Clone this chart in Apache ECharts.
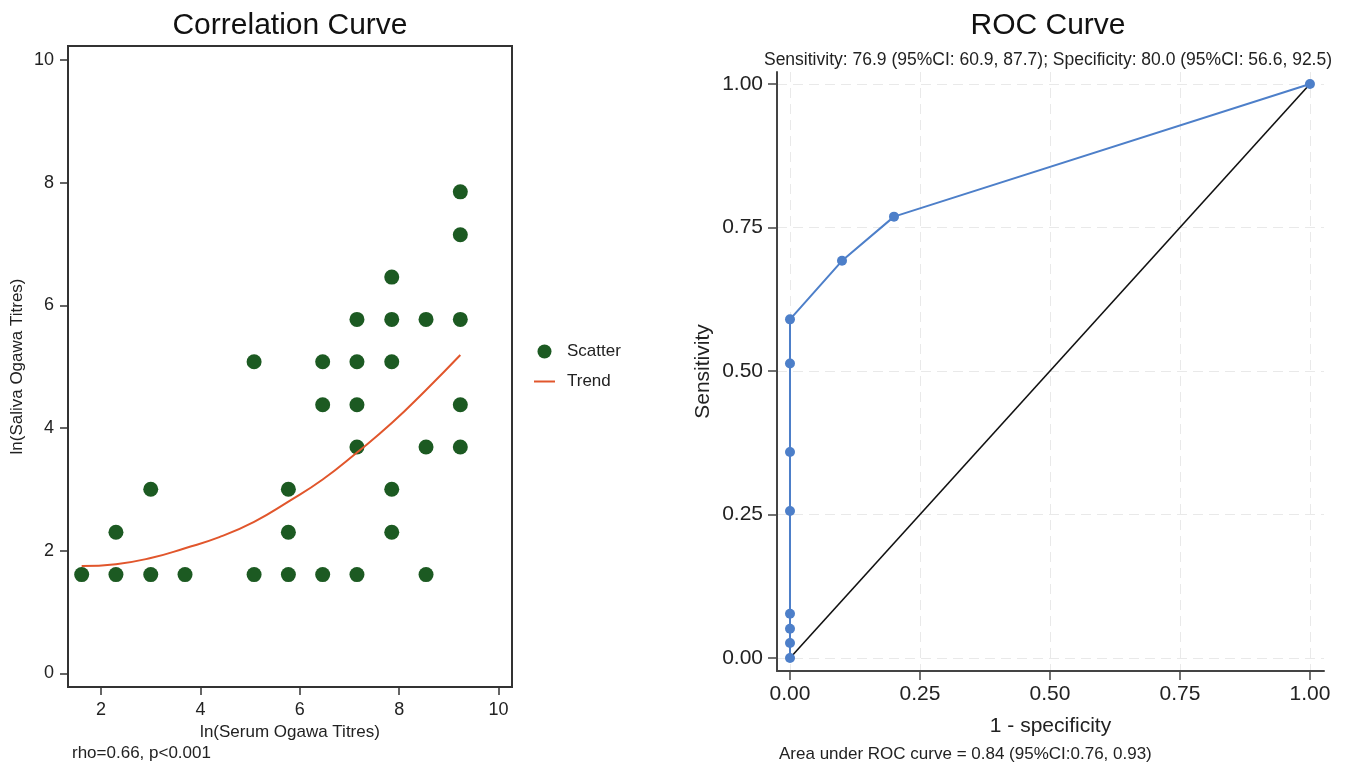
<!DOCTYPE html>
<html>
<head>
<meta charset="utf-8">
<script src="https://cdn.jsdelivr.net/npm/echarts@6/dist/echarts.min.js"></script>
<style>
  html, body { margin: 0; padding: 0; background: #fff; }
  #main { width: 1348px; height: 763px; }
</style>
</head>
<body>
<div id="main"></div>
<script>
// left panel: ln titres, one entry per dot
var serumX = [1.61, 2.30, 2.30, 3.00, 3.00, 3.69, 5.08, 5.08,
	5.77, 5.77, 5.77, 6.46, 6.46, 6.46,
	7.15, 7.15, 7.15, 7.15, 7.15,
	7.85, 7.85, 7.85, 7.85, 7.85,
	8.54, 8.54, 8.54,
	9.23, 9.23, 9.23, 9.23, 9.23]
var salivaY = [1.61, 1.61, 2.30, 1.61, 3.00, 1.61, 1.61, 5.08,
	1.61, 2.30, 3.00, 1.61, 4.38, 5.08,
	1.61, 3.69, 4.38, 5.08, 5.77,
	2.30, 3.00, 5.08, 5.77, 6.46,
	1.61, 3.69, 5.77,
	3.69, 4.38, 5.77, 7.15, 7.85]
// trend curve
var trendX = [1.61, 2.30, 3.00, 3.69, 4.38, 5.08, 5.77, 6.46, 7.15, 7.85, 8.54, 9.23]
var trendY = [1.75, 1.78, 1.88, 2.04, 2.22, 2.47, 2.80, 3.16, 3.60, 4.08, 4.62, 5.19]
var leftXTicks = [2, 4, 6, 8, 10]
var leftYTicks = [0, 2, 4, 6, 8, 10]

// right panel: ROC points
var fpr = [0, 0, 0, 0, 0, 0, 0, 0, 0.1, 0.2, 1]
var tpr = [0, 0.026, 0.051, 0.077, 0.256, 0.359, 0.513, 0.59, 0.692, 0.769, 1]
var refX = [0, 1]
var refY = [0, 1]
var rocTicks = [0, 0.25, 0.5, 0.75, 1]

var FONT = '"Liberation Sans", Arial, Helvetica, sans-serif'

function pairs(xs, ys){
	var out = []
	for (var i = 0; i < xs.length; i++) out.push([xs[i], ys[i]])
	return out
}

var chart = echarts.init(document.getElementById('main'))

var option = {
	animation: false,
	textStyle: { fontFamily: FONT },
	grid: [
		{ left: 68, top: 46, width: 444, height: 641, show: true, borderColor: '#333', borderWidth: 2, backgroundColor: 'transparent' },
		{ left: 777, top: 72, width: 547, height: 599 }
	],
	legend: {
		orient: 'vertical',
		left: 529,
		top: 338,
		itemWidth: 21,
		itemHeight: 14,
		itemGap: 13,
		textStyle: { fontSize: 17, color: '#222', fontFamily: FONT, padding: [0, 0, 0, 7] },
		data: [
			{ name: 'Scatter', icon: 'circle' },
			{ name: 'Trend', icon: 'path://M0,0 L21,0 L21,2 L0,2 Z' }
		]
	},
	xAxis: [
		{
			gridIndex: 0, type: 'value', min: 1.335, max: 10.27,
			name: 'ln(Serum Ogawa Titres)', nameLocation: 'middle', nameGap: 32,
			nameTextStyle: { fontSize: 17, color: '#222' },
			axisLine: { show: true, onZero: false, lineStyle: { color: '#333', width: 2 } },
			axisTick: { show: true, length: 8, customValues: leftXTicks, lineStyle: { color: '#333', width: 1.5 } },
			axisLabel: { customValues: leftXTicks, fontSize: 18, color: '#222', margin: 14 },
			splitLine: { show: false }
		},
		{
			gridIndex: 1, type: 'value', min: -0.025, max: 1.027,
			name: '1 - specificity', nameLocation: 'middle', nameGap: 45,
			nameTextStyle: { fontSize: 21, color: '#222' },
			axisLine: { show: true, onZero: false, lineStyle: { color: '#444', width: 2 } },
			axisTick: { show: true, length: 9, customValues: rocTicks, lineStyle: { color: '#444', width: 1.5 } },
			axisLabel: { customValues: rocTicks, fontSize: 21, color: '#222', margin: 13,
				formatter: function(v){ return v.toFixed(2) } },
			splitLine: { show: true, lineStyle: { color: '#e9e9e9', width: 1, type: [10, 6] } }
		}
	],
	yAxis: [
		{
			gridIndex: 0, type: 'value', min: -0.223, max: 10.228,
			name: 'ln(Saliva Ogawa Titres)', nameLocation: 'middle', nameGap: 42,
			nameTextStyle: { fontSize: 17, color: '#222' },
			axisLine: { show: true, onZero: false, lineStyle: { color: '#333', width: 2 } },
			axisTick: { show: true, length: 8, customValues: leftYTicks, lineStyle: { color: '#333', width: 1.5 } },
			axisLabel: { customValues: leftYTicks, fontSize: 18, color: '#222', margin: 14 },
			splitLine: { show: false }
		},
		{
			gridIndex: 1, type: 'value', min: -0.0227, max: 1.021,
			name: 'Sensitivity', nameLocation: 'middle', nameGap: 63,
			nameTextStyle: { fontSize: 21, color: '#222' },
			axisLine: { show: true, onZero: false, lineStyle: { color: '#444', width: 2 } },
			axisTick: { show: true, length: 9, customValues: rocTicks, lineStyle: { color: '#444', width: 1.5 } },
			axisLabel: { customValues: rocTicks, fontSize: 21, color: '#222', margin: 14,
				formatter: function(v){ return v.toFixed(2) } },
			splitLine: { show: true, lineStyle: { color: '#e9e9e9', width: 1, type: [10, 6] } }
		}
	],
	series: [
		{
			name: 'Scatter', type: 'scatter', xAxisIndex: 0, yAxisIndex: 0,
			symbolSize: 15,
			itemStyle: { color: '#1c5a22', opacity: 1 },
			data: pairs(serumX, salivaY)
		},
		{
			name: 'Trend', type: 'line', xAxisIndex: 0, yAxisIndex: 0,
			smooth: true, symbol: 'none',
			lineStyle: { color: '#e1562c', width: 2 },
			itemStyle: { color: '#e1562c' },
			data: pairs(trendX, trendY)
		},
		{
			name: 'Reference', type: 'line', xAxisIndex: 1, yAxisIndex: 1,
			symbol: 'none',
			lineStyle: { color: '#111', width: 1.6 },
			data: pairs(refX, refY)
		},
		{
			name: 'ROC', type: 'line', xAxisIndex: 1, yAxisIndex: 1,
			symbol: 'circle', symbolSize: 10,
			lineStyle: { color: '#4d7fc9', width: 2 },
			itemStyle: { color: '#4d7fc9' },
			data: pairs(fpr, tpr)
		}
	],
	graphic: [
		{ type: 'text', style: { text: 'Correlation Curve', x: 290, y: 26, align: 'center', verticalAlign: 'middle', font: '30px ' + FONT, fill: '#111' } },
		{ type: 'text', style: { text: 'rho=0.66, p<0.001', x: 72, y: 753, align: 'left', verticalAlign: 'middle', font: '17px ' + FONT, fill: '#222' } },
		{ type: 'text', style: { text: 'ROC Curve', x: 1048, y: 26, align: 'center', verticalAlign: 'middle', font: '30px ' + FONT, fill: '#111' } },
		{ type: 'text', style: { text: 'Sensitivity: 76.9 (95%CI: 60.9, 87.7); Specificity: 80.0 (95%CI: 56.6, 92.5)', x: 1048, y: 60, align: 'center', verticalAlign: 'middle', font: '17.5px ' + FONT, fill: '#222' } },
		{ type: 'text', style: { text: 'Area under ROC curve = 0.84 (95%CI:0.76, 0.93)', x: 779, y: 754, align: 'left', verticalAlign: 'middle', font: '17px ' + FONT, fill: '#222' } }
	]
}

chart.setOption(option)
</script>
</body>
</html>
